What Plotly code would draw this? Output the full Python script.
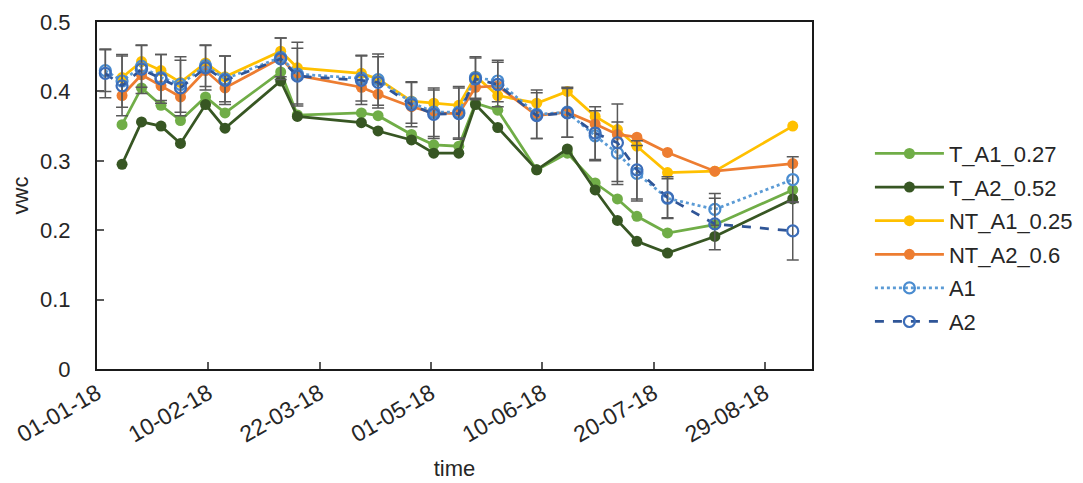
import plotly.graph_objects as go

dates = ["2018-01-04", "2018-01-10", "2018-01-17", "2018-01-24", "2018-01-31", "2018-02-09",
         "2018-02-16", "2018-03-08", "2018-03-14", "2018-04-06", "2018-04-12", "2018-04-24",
         "2018-05-02", "2018-05-11", "2018-05-17", "2018-05-25", "2018-06-08", "2018-06-19",
         "2018-06-29", "2018-07-07", "2018-07-14", "2018-07-25", "2018-08-11", "2018-09-08"]

t_a1 = [None, 0.352, 0.405, 0.380, 0.358, 0.392, 0.369, 0.428, 0.366, 0.369, 0.365, 0.338,
        0.323, 0.321, 0.383, 0.373, 0.287, 0.311, 0.268, 0.245, 0.220, 0.196, 0.208, 0.258]
t_a2 = [None, 0.295, 0.356, 0.350, 0.325, 0.381, 0.347, 0.415, 0.364, 0.355, 0.343, 0.330,
        0.311, 0.311, 0.381, 0.348, 0.287, 0.317, 0.258, 0.214, 0.184, 0.167, 0.191, 0.245]
nt_a1 = [None, 0.420, 0.443, 0.430, 0.413, 0.441, 0.421, 0.458, 0.434, 0.426, 0.418, 0.386,
         0.383, 0.380, 0.422, 0.394, 0.383, 0.400, 0.364, 0.345, 0.321, 0.283, 0.285, 0.350]
nt_a2 = [None, 0.394, 0.424, 0.408, 0.392, 0.430, 0.405, 0.448, 0.423, 0.406, 0.396, 0.378,
         0.369, 0.368, 0.406, 0.408, 0.365, 0.370, 0.353, 0.338, 0.334, 0.312, 0.285, 0.296]
a1 = [0.430, 0.415, 0.436, 0.420, 0.410, 0.437, 0.418, 0.449, 0.425, 0.419, 0.417, 0.384,
      0.370, 0.370, 0.420, 0.415, 0.367, 0.370, 0.336, 0.311, 0.282, 0.246, 0.230, 0.273]
a2 = [0.426, 0.408, 0.432, 0.418, 0.405, 0.434, 0.416, 0.447, 0.422, 0.416, 0.413, 0.381,
      0.367, 0.368, 0.418, 0.410, 0.365, 0.369, 0.340, 0.326, 0.287, 0.247, 0.209, 0.199]
a1_err = [0.030, 0.038, 0.030, 0.033, 0.040, 0.030, 0.033, 0.028, 0.046, 0.033, 0.037, 0.030,
          0.035, 0.037, 0.030, 0.030, 0.035, 0.036, 0.036, 0.045, 0.040, 0.028, 0.023, 0.033]
a2_err = [0.035, 0.043, 0.035, 0.035, 0.040, 0.032, 0.035, 0.030, 0.040, 0.035, 0.037, 0.032,
          0.035, 0.037, 0.030, 0.032, 0.033, 0.035, 0.038, 0.056, 0.042, 0.030, 0.037, 0.042]

FONT = "Liberation Sans, Arial, sans-serif"
TXT = "#262626"

fig = go.Figure()

solid = [("T_A1_0.27", t_a1, "#70AD47"),
         ("T_A2_0.52", t_a2, "#375623"),
         ("NT_A1_0.25", nt_a1, "#FFC000"),
         ("NT_A2_0.6", nt_a2, "#ED7D31")]
for name, vals, col in solid:
    fig.add_trace(go.Scatter(
        x=dates, y=vals, name=name, mode="lines+markers", legendgroup=name,
        line=dict(color=col, width=2.75),
        marker=dict(symbol="circle", size=11, color=col),
        connectgaps=True))

err_style = dict(type="data", visible=True, color="#595959", thickness=1.5, width=6)
fig.add_trace(go.Scatter(
    x=dates, y=a1, name="A1", mode="lines+markers", legendgroup="A1",
    line=dict(color="#5B9BD5", width=2.75, dash="dot"),
    marker=dict(symbol="circle-open", size=11, color="#4A8CD0", line=dict(width=2.2)),
    error_y=dict(array=a1_err, **err_style)))
fig.add_trace(go.Scatter(
    x=dates, y=a2, name="A2", mode="lines+markers", legendgroup="A2",
    line=dict(color="#2F5597", width=2.75, dash="dash"),
    marker=dict(symbol="circle-open", size=11, color="#3C6DB8", line=dict(width=2.2)),
    error_y=dict(array=a2_err, **err_style)))

# the page adds an 8px body margin, so the figure is 8px smaller and its margins shifted
fig.update_layout(
    template="none",
    width=1075, height=475,
    margin=dict(l=89, r=271, t=14, b=114, autoexpand=False),
    paper_bgcolor="white", plot_bgcolor="white",
    font=dict(family=FONT, size=22, color=TXT),
    showlegend=True,
    legend=dict(x=1.081, y=0.681, xanchor="left", yanchor="top",
                font=dict(family=FONT, size=22, color=TXT),
                traceorder="grouped", tracegroupgap=2, itemwidth=69,
                bgcolor="rgba(0,0,0,0)", borderwidth=0),
    xaxis=dict(
        type="date", automargin=False,
        range=["2018-01-01", "2018-09-14 22:00"],
        tick0="2018-01-01", dtick=40 * 86400000,
        tickformat="%d-%m-%y", tickangle=-30,
        ticks="inside", ticklen=7, tickwidth=1.5, tickcolor="#595959",
        showline=True, linecolor="#1a1a1a", linewidth=2, mirror=True,
        showgrid=False, zeroline=False,
        tickfont=dict(family=FONT, size=23, color=TXT),
        title=dict(text="time", font=dict(family=FONT, size=22, color=TXT), standoff=14),
    ),
    yaxis=dict(
        automargin=False,
        range=[0, 0.5], dtick=0.1,
        ticks="inside", ticklen=7, tickwidth=1.5, tickcolor="#595959",
        showline=True, linecolor="#1a1a1a", linewidth=2, mirror=True,
        showgrid=False, zeroline=False,
        ticklabelstandoff=20,
        tickfont=dict(family=FONT, size=22, color=TXT),
        title=dict(text="vwc", font=dict(family=FONT, size=22, color=TXT), standoff=8),
    ),
)

fig.write_html("out.html")
